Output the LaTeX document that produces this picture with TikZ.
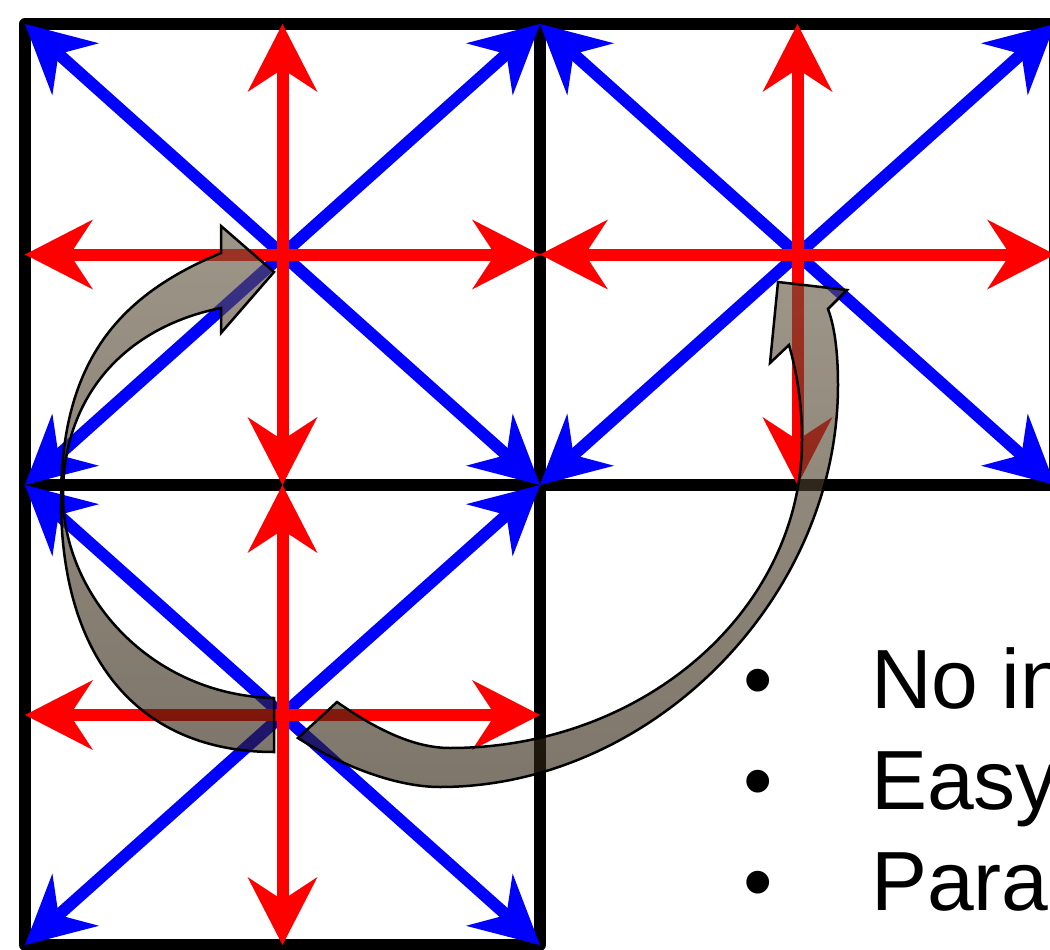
\documentclass[tikz,border=0pt]{standalone}
\usepackage{fontspec}
\setmainfont{Liberation Sans}
\usetikzlibrary{arrows.meta}
\definecolor{rd}{RGB}{255,0,0}
\definecolor{bl}{RGB}{0,0,255}
\definecolor{toptone}{RGB}{97,84,61}
\definecolor{bottone}{RGB}{46,34,15}
\begin{document}
\begin{tikzpicture}[x=1pt,y=-1pt,
  cellbox/.style={draw=black,line width=12pt,line join=round},
  vec/.style={line width=12pt,-{Stealth[length=68pt,width=70pt,inset=23pt,line width=0pt]}},
  bluevec/.style={vec,draw=bl},
  redvec/.style={vec,draw=rd},
  curvedarrow/.style={draw=black,line width=2.5pt,line join=miter,top color=toptone,bottom color=bottone,fill opacity=0.62},
  txt/.style={inner sep=0pt,font=\fontsize{84}{100}\selectfont,text=black}]
\useasboundingbox (0,0) rectangle (1050,950);
\clip (0,0) rectangle (1050,950);
% cells
\draw[cellbox] (25,24) rectangle (540,485);
\draw[cellbox] (540,24) rectangle (1055,485);
\draw[cellbox] (25,485) rectangle (540,945);
% coordinates
\foreach \id/\l/\t/\r/\b in {A/25/24/540/485, B/540/24/1055/485, C/25/485/540/945}{
  \coordinate (\id-c) at ({(\l+\r)/2},{(\t+\b)/2});
  \coordinate (\id-nw) at (\l,\t);
  \coordinate (\id-ne) at (\r,\t);
  \coordinate (\id-se) at (\r,\b);
  \coordinate (\id-sw) at (\l,\b);
  \coordinate (\id-n) at ({(\l+\r)/2},\t);
  \coordinate (\id-s) at ({(\l+\r)/2},\b);
  \coordinate (\id-w) at (\l,{(\t+\b)/2});
  \coordinate (\id-e) at (\r,{(\t+\b)/2});
}
\foreach \id in {A,B,C}{
  \foreach \d in {nw,ne,se,sw}{\draw[bluevec] (\id-c) -- (\id-\d);}
}
\foreach \id in {A,B,C}{
  \foreach \d in {n,e,s,w}{\draw[redvec] (\id-c) -- (\id-\d);}
}
% curved arrow from lower cell to upper-left cell
\path[curvedarrow] (274,752) -- (274,698)
  .. controls (150,695) and (63,595) .. (63,495)
  .. controls (63,395) and (126,327) .. (221,308)
  -- (221,333) -- (274,272) -- (221,226) -- (221,253)
  .. controls (120,295) and (61,360) .. (61,500)
  .. controls (61,660) and (140,752) .. (274,752) -- cycle;
% curved arrow from lower cell to upper-right cell
\path[curvedarrow] (298,738) -- (337,702)
  .. controls (370,725) and (410,748) .. (450,748)
  .. controls (644,748) and (802,610) .. (802,440)
  .. controls (802,400) and (796,370) .. (789,345)
  -- (770,363) -- (778,282) -- (847,290) -- (828,309)
  .. controls (836,330) and (838,360) .. (838,385)
  .. controls (838,600) and (650,787) .. (440,787)
  .. controls (395,787) and (340,765) .. (298,738) -- cycle;
% bullet list
\node[txt,anchor=base] (b1) at (758,708) {•};
\node[txt,anchor=base] (b2) at (758,809) {•};
\node[txt,anchor=base] (b3) at (758,910) {•};
\node[txt,anchor=base west] (t1) at (871,708) {No in};
\node[txt,anchor=base west] (t2) at (871,809) {Easy};
\node[txt,anchor=base west] (t3) at (871,910) {Para};
\end{tikzpicture}
\end{document}
